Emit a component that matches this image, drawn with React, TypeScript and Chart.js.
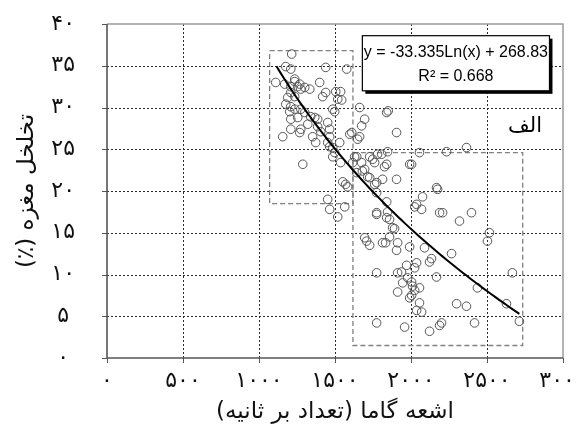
import React, { useEffect, useRef } from 'react';
import { Chart, registerables } from 'chart.js';
Chart.register(...registerables);

// Gamma ray (counts per second) of each sample
const gammaX = [
  1215, 1176, 1209, 1439, 1577, 1110, 1169, 1209, 1235, 1255,
  1275, 1209, 1189, 1235, 1176, 1209, 1202, 1235, 1275, 1301,
  1255, 1209, 1340, 1367, 1386, 1321, 1386, 1275, 1209, 1406,
  1452, 1465, 1485, 1498, 1518, 1537, 1505, 1439, 1399, 1334,
  1156, 1465, 1353, 1268, 1544, 1235, 1268, 1301, 1419, 1662,
  1840, 1850, 1695, 1675, 1597, 1610, 1662, 1905, 1531, 1485,
  1288, 1485, 1643, 1675, 1728, 1780, 1761, 1846, 1840, 2004,
  2056, 2234, 2365, 1551, 1583, 1695, 1715, 1774, 1813, 1905,
  1643, 2175, 2076, 2037, 2070, 2208, 2398, 1452, 1465, 1564,
  1774, 1373, 1452, 1498, 1537, 1570, 1518, 1465, 1649, 1629,
  1616, 1748, 1807, 1826, 1680, 1728, 1761, 1991, 1774, 1840,
  1846, 1774, 1859, 1879, 2024, 2168, 2188, 1695, 1859, 1728,
  1813, 1905, 1912, 1991, 2089, 2122, 2037, 2024, 1971, 1912,
  1938, 1774, 2168, 1945, 2004, 2056, 2024, 2004, 1991, 1912,
  2056, 2037, 2070, 1774, 1958, 2122, 2188, 1840, 1892, 1708,
  1833, 2135, 2267, 2319, 2503, 2516, 2667, 2437, 2300, 2365,
  2628, 2713, 2418, 2201, 2010, 1978,
];

// Core porosity (%) of each sample
const porosityY = [
  36.4, 34.9, 34.6, 34.8, 34.6, 33.0, 32.8, 32.5, 33.1, 32.5,
  32.2, 31.8, 31.2, 31.3, 30.4, 30.1, 29.5, 29.8, 29.8, 29.4,
  28.8, 28.6, 28.9, 28.8, 28.6, 28.0, 27.7, 27.4, 27.4, 27.1,
  28.2, 27.4, 29.8, 29.5, 31.0, 31.9, 31.9, 31.8, 33.0, 32.2,
  26.5, 26.5, 26.5, 27.0, 30.9, 33.4, 32.8, 32.4, 31.3, 30.0,
  29.4, 29.6, 28.6, 27.8, 26.8, 27.0, 26.5, 27.0, 25.8, 25.2,
  23.2, 24.1, 24.1, 23.4, 24.1, 24.4, 23.4, 24.7, 23.2, 23.2,
  24.6, 24.7, 25.2, 21.1, 20.5, 22.6, 21.7, 21.0, 21.4, 21.4,
  22.2, 20.2, 19.3, 18.4, 17.8, 17.4, 17.4, 19.0, 17.8, 18.1,
  17.4, 25.8, 25.8, 24.6, 23.4, 20.8, 16.9, 25.3, 26.2, 24.1,
  23.4, 23.8, 24.4, 22.9, 22.4, 21.6, 20.8, 23.2, 19.8, 18.7,
  17.5, 17.2, 16.6, 15.6, 18.1, 20.4, 17.4, 14.4, 14.5, 13.5,
  13.8, 12.9, 13.8, 13.3, 13.2, 11.5, 11.4, 10.8, 11.1, 10.2,
  10.3, 10.2, 9.7, 9.0, 9.1, 8.4, 8.1, 7.5, 7.2, 7.9,
  6.6, 5.7, 5.5, 4.2, 3.7, 3.2, 3.9, 16.8, 15.5, 14.0,
  13.8, 11.9, 12.5, 16.4, 14.0, 15.0, 10.2, 8.4, 6.5, 6.2,
  6.5, 4.4, 4.2, 4.2, 8.6, 9.6,
];

// Logarithmic trend line shown on the chart
const trendSlope = -33.335;
const trendIntercept = 268.83;
const trendXStart = 1115;
const trendXEnd = 2713;
const trendSteps = 60;

// Dashed grouping boxes (data units)
const boxLeft = [1070, 1618];
const boxRight = [1618, 2735];
const boxTop = [36.8, 24.6];
const boxBottom = [18.5, 1.5];

// Tick labels (Persian digits)
const xTickLabels = ['۰', '۵۰۰', '۱۰۰۰', '۱۵۰۰', '۲۰۰۰', '۲۵۰۰', '۳۰۰۰'];
const yTickLabels = ['۰', '۵', '۱۰', '۱۵', '۲۰', '۲۵', '۳۰', '۳۵', '۴۰'];

const xTitle = 'اشعه گاما (تعداد بر ثانیه)';
const yTitle = 'تخلخل مغزه (٪)';
const equationText = 'y = -33.335Ln(x) + 268.83';
const r2Text = 'R² = 0.668';
const panelLabel = 'الف';

// Annotation anchors (data units)
const eqBoxX = [1680, 2911];
const eqBoxY = [38.6, 32.0];
const panelLabelAt = [2750, 27.7];

const PERSIAN_FONT = "'DejaVu Sans', 'Noto Sans', sans-serif";

export default function App() {
  const ref = useRef<HTMLCanvasElement | null>(null);

  useEffect(() => {
    if (!ref.current) return;

    const points = gammaX.map((x, i) => ({ x, y: porosityY[i] }));
    const trend: { x: number; y: number }[] = [];
    for (let i = 0; i <= trendSteps; i++) {
      const x = trendXStart + ((trendXEnd - trendXStart) * i) / trendSteps;
      trend.push({ x, y: trendSlope * Math.log(x) + trendIntercept });
    }
    const boxes = boxLeft.map((l, i) => [
      { x: l, y: boxTop[i] },
      { x: boxRight[i], y: boxTop[i] },
      { x: boxRight[i], y: boxBottom[i] },
      { x: l, y: boxBottom[i] },
      { x: l, y: boxTop[i] },
    ]);

    const gridPlugin = {
      id: 'dashGrid',
      beforeDatasetsDraw(chart: any) {
        const { ctx, chartArea, scales } = chart;
        const xs = scales.x;
        const ys = scales.y;
        const { left, right, top, bottom } = chartArea;
        ctx.save();
        ctx.strokeStyle = '#2a2a2a';
        ctx.lineWidth = 1;
        ctx.setLineDash([2, 2]);
        xs.ticks.forEach((t: any, i: number) => {
          if (i === 0 || i === xs.ticks.length - 1) return;
          const p = Math.round(xs.getPixelForValue(t.value)) + 0.5;
          ctx.beginPath();
          ctx.moveTo(p, top);
          ctx.lineTo(p, bottom);
          ctx.stroke();
        });
        ys.ticks.forEach((t: any, i: number) => {
          if (i === 0 || i === ys.ticks.length - 1) return;
          const p = Math.round(ys.getPixelForValue(t.value)) + 0.5;
          ctx.beginPath();
          ctx.moveTo(left, p);
          ctx.lineTo(right, p);
          ctx.stroke();
        });
        ctx.setLineDash([]);
        ctx.strokeStyle = '#555';
        xs.ticks.forEach((t: any) => {
          const p = Math.round(xs.getPixelForValue(t.value)) + 0.5;
          ctx.beginPath();
          ctx.moveTo(p, bottom);
          ctx.lineTo(p, bottom + 5);
          ctx.stroke();
        });
        ys.ticks.forEach((t: any) => {
          const p = Math.round(ys.getPixelForValue(t.value)) + 0.5;
          ctx.beginPath();
          ctx.moveTo(left - 5, p);
          ctx.lineTo(left, p);
          ctx.stroke();
        });
        ctx.strokeStyle = '#9a9a9a';
        ctx.lineWidth = 1.5;
        ctx.beginPath();
        ctx.moveTo(left, top);
        ctx.lineTo(right, top);
        ctx.lineTo(right, bottom);
        ctx.stroke();
        ctx.strokeStyle = '#555';
        ctx.lineWidth = 1.6;
        ctx.beginPath();
        ctx.moveTo(left, top);
        ctx.lineTo(left, bottom);
        ctx.lineTo(right, bottom);
        ctx.stroke();
        ctx.restore();
      },
    };

    const annotationPlugin = {
      id: 'annot',
      afterDatasetsDraw(chart: any) {
        const { ctx, scales } = chart;
        const xs = scales.x;
        const ys = scales.y;
        const l = xs.getPixelForValue(eqBoxX[0]);
        const r = xs.getPixelForValue(eqBoxX[1]);
        const t = ys.getPixelForValue(eqBoxY[0]);
        const b = ys.getPixelForValue(eqBoxY[1]);
        ctx.save();
        ctx.fillStyle = '#000';
        ctx.fillRect(l + 3, t + 3, r - l, b - t);
        ctx.fillStyle = '#fff';
        ctx.fillRect(l, t, r - l, b - t);
        ctx.strokeStyle = '#000';
        ctx.lineWidth = 1.2;
        ctx.strokeRect(l, t, r - l, b - t);
        ctx.fillStyle = '#000';
        ctx.direction = 'ltr';
        ctx.textAlign = 'center';
        ctx.textBaseline = 'middle';
        ctx.font = "16px 'Liberation Sans', Arial, sans-serif";
        const cx = (l + r) / 2;
        ctx.fillText(equationText, cx, t + (b - t) * 0.3);
        ctx.fillText(r2Text, cx, t + (b - t) * 0.74);

        ctx.direction = 'rtl';
        ctx.font = `21px ${PERSIAN_FONT}`;
        ctx.fillText(
          panelLabel,
          xs.getPixelForValue(panelLabelAt[0]),
          ys.getPixelForValue(panelLabelAt[1])
        );
        ctx.restore();
      },
    };

    const chart = new Chart(ref.current, {
      type: 'scatter',
      data: {
        datasets: [
          {
            label: 'trend',
            data: trend,
            showLine: true,
            borderColor: '#000',
            borderWidth: 2,
            pointRadius: 0,
            order: 0,
          } as any,
          {
            label: 'samples',
            data: points,
            pointStyle: 'circle',
            pointRadius: 4.3,
            backgroundColor: 'rgba(0,0,0,0)',
            borderColor: '#555',
            borderWidth: 1,
            order: 1,
          },
          ...boxes.map((pts) => ({
            label: 'box',
            data: pts,
            showLine: true,
            borderColor: '#808080',
            borderWidth: 1.3,
            borderDash: [5, 3],
            pointRadius: 0,
            order: 2,
          })),
        ],
      },
      options: {
        responsive: false,
        animation: false,
        layout: { padding: { top: 24, right: 16, left: 0, bottom: 0 } },
        plugins: {
          legend: { display: false },
          tooltip: { enabled: false },
        },
        scales: {
          x: {
            type: 'linear',
            min: 0,
            max: 3000,
            afterFit: (s: any) => {
              s.height = 74;
              s.paddingLeft = 0;
              s.paddingRight = 0;
            },
            ticks: {
              stepSize: 500,
              autoSkip: false,
              maxRotation: 0,
              padding: 5,
              color: '#111',
              font: { family: PERSIAN_FONT, size: 22 },
              callback: (_v: any, i: number) => xTickLabels[i],
            },
            title: {
              display: true,
              text: xTitle,
              color: '#111',
              font: { family: PERSIAN_FONT, size: 23 },
              padding: { top: 0, bottom: 6 },
            },
            grid: { display: true, drawOnChartArea: false, drawTicks: true, tickLength: 5, color: 'rgba(0,0,0,0)' },
            border: { display: false },
          },
          y: {
            type: 'linear',
            min: 0,
            max: 40,
            afterFit: (s: any) => {
              s.width = 107;
              s.paddingTop = 0;
              s.paddingBottom = 0;
            },
            ticks: {
              stepSize: 5,
              autoSkip: false,
              padding: 27,
              crossAlign: 'center',
              color: '#111',
              font: { family: PERSIAN_FONT, size: 22 },
              callback: (_v: any, i: number) => yTickLabels[i],
            },
            title: {
              display: true,
              text: yTitle,
              color: '#111',
              font: { family: PERSIAN_FONT, size: 23 },
              padding: { top: 13, bottom: 0 },
            },
            grid: { display: true, drawOnChartArea: false, drawTicks: true, tickLength: 5, color: 'rgba(0,0,0,0)' },
            border: { display: false },
          },
        },
      } as any,
      plugins: [gridPlugin, annotationPlugin],
    });

    return () => chart.destroy();
  }, []);

  return (
    <div style={{ position: 'absolute', left: 0, top: 0, width: 579, height: 432, background: '#fff' }}>
      <canvas ref={ref} width={579} height={432} dir="rtl" />
    </div>
  );
}
